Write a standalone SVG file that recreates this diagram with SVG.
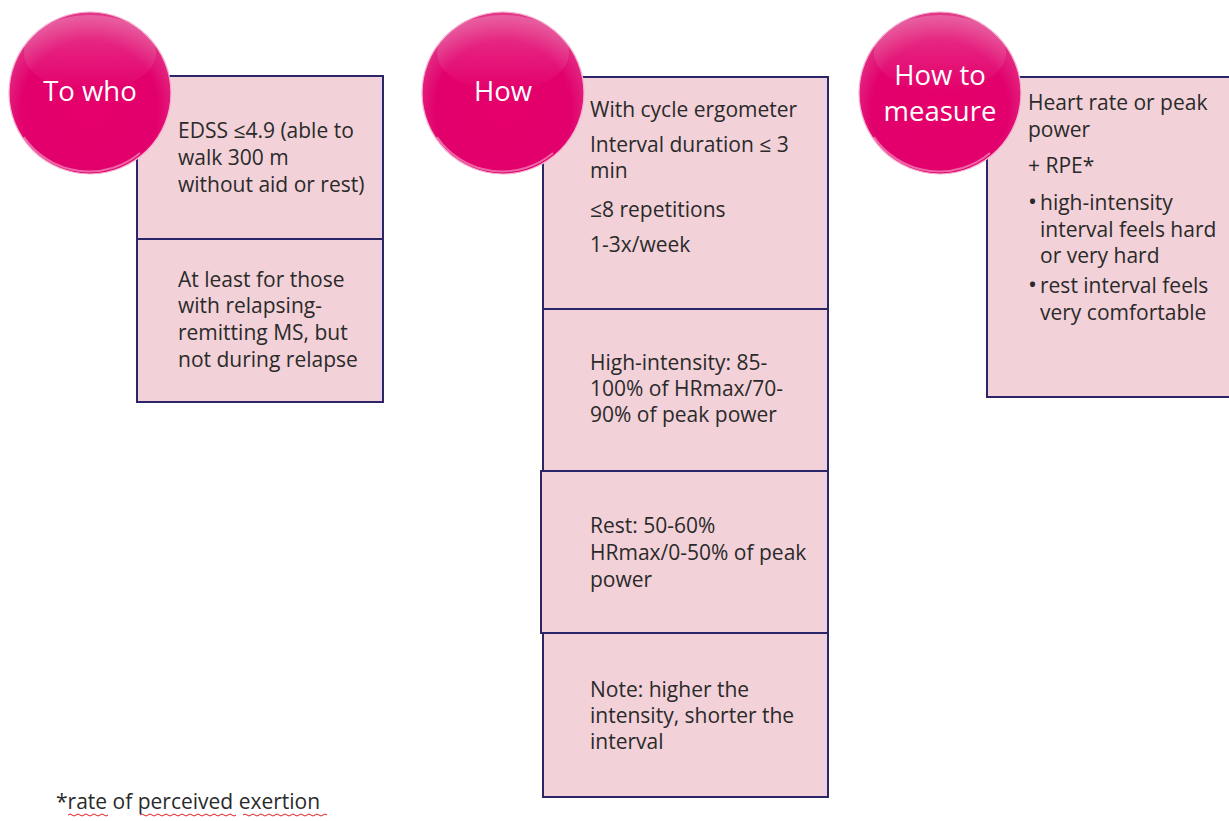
<svg xmlns="http://www.w3.org/2000/svg" width="1229" height="821" viewBox="0 0 1229 821">
<defs>
<radialGradient id="ball" cx="0.5" cy="0.6" r="0.6">
<stop offset="0" stop-color="#E5006A"/>
<stop offset="0.7" stop-color="#E2006C"/>
<stop offset="1" stop-color="#E23A8A"/>
</radialGradient>
<linearGradient id="gloss" x1="0" y1="0" x2="0" y2="1">
<stop offset="0" stop-color="#FFFFFF" stop-opacity="0.22"/>
<stop offset="1" stop-color="#FFFFFF" stop-opacity="0"/>
</linearGradient>
<g id="circleShape">
<circle r="81" fill="url(#ball)" stroke="#F5B3D0" stroke-width="1.2"/>
<ellipse cx="0" cy="-40" rx="66" ry="38" fill="url(#gloss)"/>
<path d="M -66 44 A 79 79 0 0 0 50 60" fill="none" stroke="#FFFFFF" stroke-opacity="0.4" stroke-width="2"/>
</g>
</defs>
<style>
.box{fill:#F2D1D8;stroke:#2C2668;stroke-width:2}
.inner{fill:none;stroke:#DCD4F2;stroke-width:1.2}
.t{font-family:"Open Sans",Lato,"Liberation Sans",sans-serif;font-size:21px;fill:#2A2A2A}
.c{font-family:"Open Sans",Lato,"Liberation Sans",sans-serif;font-size:27.5px;fill:#FFFFFF;text-anchor:middle}
.b{font-size:24px}
.squig{fill:none;stroke:#E02020;stroke-width:1}
</style>
<rect width="1229" height="821" fill="#FFFFFF"/>

<g id="who-box1">
<rect class="box" x="137" y="76" width="246" height="163"/>
<path class="inner" d="M 380 78 V 237"/>
<text class="t"><tspan x="178" y="138">EDSS ≤4.9 (able to</tspan><tspan x="178" y="165">walk 300 m</tspan><tspan x="178" y="192">without aid or rest)</tspan></text>
</g>
<g id="who-box2">
<rect class="box" x="137" y="239" width="246" height="163"/>
<path class="inner" d="M 380 241 V 400"/>
<text class="t"><tspan x="178" y="287">At least for those</tspan><tspan x="178" y="313">with relapsing-</tspan><tspan x="178" y="340">remitting MS, but</tspan><tspan x="178" y="367">not during relapse</tspan></text>
</g>

<g id="how-box1">
<rect class="box" x="543" y="77" width="285" height="232"/>
<path class="inner" d="M 825 79 V 307"/>
<text class="t"><tspan x="590" y="117">With cycle ergometer</tspan><tspan x="590" y="152">Interval duration ≤ 3</tspan><tspan x="590" y="178">min</tspan><tspan x="590" y="217">≤8 repetitions</tspan><tspan x="590" y="252">1-3x/week</tspan></text>
</g>
<g id="how-box2">
<rect class="box" x="543" y="309" width="285" height="162"/>
<path class="inner" d="M 825 311 V 469"/>
<text class="t"><tspan x="590" y="370">High-intensity: 85-</tspan><tspan x="590" y="396">100% of HRmax/70-</tspan><tspan x="590" y="422">90% of peak power</tspan></text>
</g>
<g id="how-box3">
<rect class="box" x="541" y="471" width="287" height="162"/>
<path class="inner" d="M 825 473 V 631"/>
<text class="t"><tspan x="590" y="533">Rest: 50-60%</tspan><tspan x="590" y="560">HRmax/0-50% of peak</tspan><tspan x="590" y="587">power</tspan></text>
</g>
<g id="how-box4">
<rect class="box" x="543" y="633" width="285" height="164"/>
<path class="inner" d="M 825 635 V 795"/>
<text class="t"><tspan x="590" y="697">Note: higher the</tspan><tspan x="590" y="723">intensity, shorter the</tspan><tspan x="590" y="749">interval</tspan></text>
</g>

<g id="measure-box">
<rect class="box" x="987" y="77" width="245" height="320"/>
<text class="t"><tspan x="1028" y="110">Heart rate or peak</tspan><tspan x="1028" y="137">power</tspan><tspan x="1028" y="173">+ RPE*</tspan><tspan x="1028" y="210" class="b">•</tspan><tspan x="1040" y="210">high-intensity</tspan><tspan x="1040" y="237">interval feels hard</tspan><tspan x="1040" y="263">or very hard</tspan><tspan x="1028" y="293" class="b">•</tspan><tspan x="1040" y="293">rest interval feels</tspan><tspan x="1040" y="320">very comfortable</tspan></text>
</g>

<g id="circle-who">
<use href="#circleShape" x="90" y="93"/>
<text class="c" x="90" y="101">To who</text>
</g>
<g id="circle-how">
<use href="#circleShape" x="503" y="93"/>
<text class="c" x="503" y="101">How</text>
</g>
<g id="circle-measure">
<use href="#circleShape" x="940" y="93"/>
<text class="c"><tspan x="940" y="85">How to</tspan><tspan x="940" y="121">measure</tspan></text>
</g>

<g id="connectors"></g>

<g id="footnote">
<text class="t" x="56" y="809" font-size="20.5">*rate of perceived exertion</text>
<path class="squig" d="M 68 815 q 2 -2 4 0 t 4 0 t 4 0 t 4 0 t 4 0 t 4 0 t 4 0 t 4 0 t 4 0 t 4 0 M 140 815 q 2 -2 4 0 t 4 0 t 4 0 t 4 0 t 4 0 t 4 0 t 4 0 t 4 0 t 4 0 t 4 0 t 4 0 t 4 0 t 4 0 t 4 0 t 4 0 t 4 0 t 4 0 t 4 0 t 4 0 t 4 0 t 4 0 t 4 0 t 4 0 t 4 0 M 243 815 q 2 -2 4 0 t 4 0 t 4 0 t 4 0 t 4 0 t 4 0 t 4 0 t 4 0 t 4 0 t 4 0 t 4 0 t 4 0 t 4 0 t 4 0 t 4 0 t 4 0 t 4 0 t 4 0 t 4 0 t 4 0 t 4 0"/>
</g>
</svg>
